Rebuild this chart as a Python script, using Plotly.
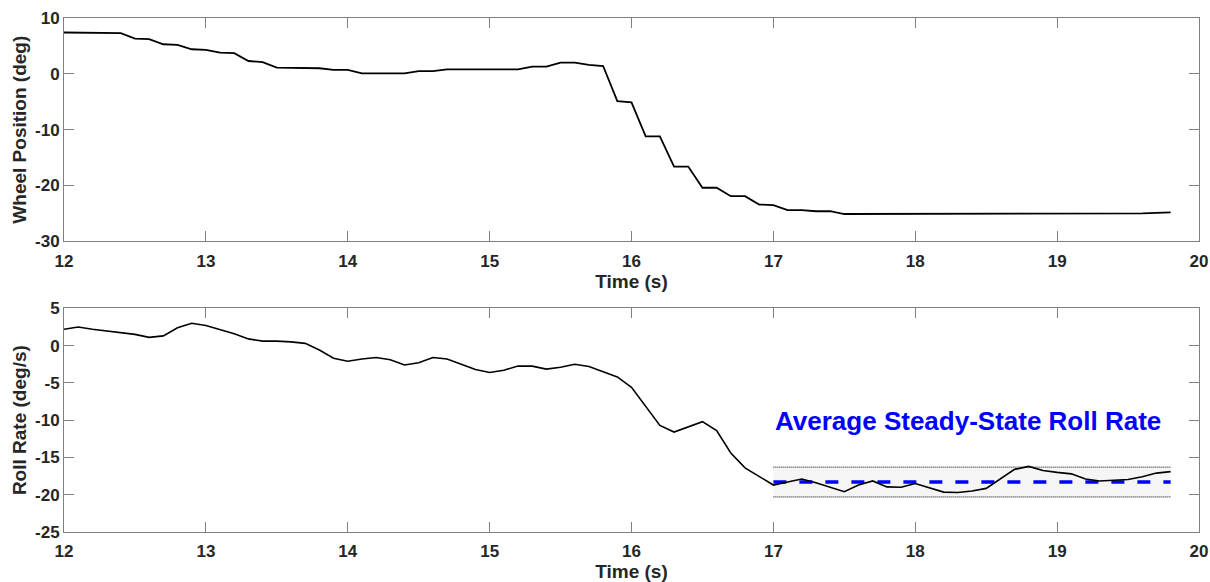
import plotly.graph_objects as go
from plotly.subplots import make_subplots

time_s = [12.0, 12.1, 12.2, 12.3, 12.4, 12.5, 12.6, 12.7, 12.8, 12.9,
          13.0, 13.1, 13.2, 13.3, 13.4, 13.5, 13.6, 13.7, 13.8, 13.9,
          14.0, 14.1, 14.2, 14.3, 14.4, 14.5, 14.6, 14.7, 14.8, 14.9,
          15.0, 15.1, 15.2, 15.3, 15.4, 15.5, 15.6, 15.7, 15.8, 15.9,
          16.0, 16.1, 16.2, 16.3, 16.4, 16.5, 16.6, 16.7, 16.8, 16.9,
          17.0, 17.1, 17.2, 17.3, 17.4, 17.5, 17.6, 17.7, 17.8, 17.9,
          18.0, 18.1, 18.2, 18.3, 18.4, 18.5, 18.6, 18.7, 18.8, 18.9,
          19.0, 19.1, 19.2, 19.3, 19.4, 19.5, 19.6, 19.7, 19.8]

wheel_position = [7.4, 7.4, 7.4, 7.4, 7.3, 6.3, 6.2, 5.3, 5.2, 4.4,
                  4.3, 3.8, 3.7, 2.3, 2.1, 1.1, 1.1, 1.1, 1.0, 0.7,
                  0.7, 0.1, 0.1, 0.1, 0.1, 0.5, 0.5, 0.8, 0.8, 0.8,
                  0.8, 0.8, 0.8, 1.3, 1.3, 2.0, 2.0, 1.6, 1.4, -4.9,
                  -5.1, -11.2, -11.2, -16.6, -16.6, -20.4, -20.4, -21.9, -21.9, -23.4,
                  -23.5, -24.4, -24.4, -24.6, -24.6, -25.1, -25.1, -25.0, -25.0, -25.0,
                  -25.0, -25.0, -25.0, -25.0, -25.0, -25.0, -25.0, -25.0, -25.0, -25.0,
                  -25.0, -25.0, -25.0, -25.0, -25.0, -25.0, -25.0, -24.9, -24.8]

roll_rate = [2.2, 2.5, 2.2, 2.0, 1.8, 1.5, 1.1, 1.3, 2.4, 3.0,
             2.7, 2.2, 1.6, 0.9, 0.6, 0.6, 0.5, 0.3, -0.6, -1.7,
             -2.1, -1.8, -1.6, -1.9, -2.6, -2.3, -1.6, -1.8, -2.5, -3.2,
             -3.6, -3.3, -2.75, -2.75, -3.15, -2.9, -2.5, -2.8, -3.5, -4.2,
             -5.6, -8.2, -10.7, -11.6, -10.9, -10.2, -11.4, -14.4, -16.4, -17.6,
             -18.7, -18.3, -17.9, -18.4, -19.05, -19.6, -18.7, -18.15, -18.95, -19.0,
             -18.5, -19.1, -19.65, -19.7, -19.5, -19.15, -17.9, -16.6, -16.2, -16.75,
             -17.0, -17.2, -17.9, -18.15, -18.05, -17.95, -17.6, -17.1, -16.9]

ss_time = [17.0, 19.8]
ss_mean = [-18.3, -18.3]
ss_upper = [-16.3, -16.3]
ss_lower = [-20.3, -20.3]
ss_label = "Average Steady-State Roll Rate"

x_ticks = [12, 13, 14, 15, 16, 17, 18, 19, 20]
wheel_ticks = [10, 0, -10, -20, -30]
roll_ticks = [5, 0, -5, -10, -15, -20, -25]

FONT = "Arial, 'Liberation Sans', sans-serif"
TXT = "#262626"
AX = "#808080"

fig = make_subplots(rows=2, cols=1, vertical_spacing=0.13)

fig.add_trace(go.Scatter(x=time_s, y=wheel_position, mode="lines",
                         line=dict(color="black", width=1.8), showlegend=False), row=1, col=1)

fig.add_trace(go.Scatter(x=ss_time, y=ss_lower, mode="lines",
                         line=dict(color="black", width=1, dash="1px,1px"), showlegend=False), row=2, col=1)
fig.add_trace(go.Scatter(x=ss_time, y=ss_upper, mode="lines", fill="tonexty", fillcolor="#f5f5f5",
                         line=dict(color="black", width=1, dash="1px,1px"), showlegend=False), row=2, col=1)
fig.add_trace(go.Scatter(x=ss_time, y=ss_mean, mode="lines",
                         line=dict(color="#0000ff", width=3.5, dash="13px,13px"), showlegend=False), row=2, col=1)
fig.add_trace(go.Scatter(x=time_s, y=roll_rate, mode="lines",
                         line=dict(color="black", width=1.6), showlegend=False), row=2, col=1)

fig.add_annotation(x=ss_time[0], y=-10.06, xref="x2", yref="y2", text=ss_label,
                   showarrow=False, xanchor="left", yanchor="middle",
                   font=dict(family=FONT, size=26, color="#0000ff", weight="bold"))

axis_common = dict(showgrid=False, zeroline=False, showline=True, linecolor=AX, linewidth=1,
                   mirror="ticks", ticks="inside", ticklen=10, tickcolor=AX, tickwidth=1,
                   automargin=False,
                   tickfont=dict(family=FONT, size=17, color=TXT, weight="bold"))

for r in (1, 2):
    fig.update_xaxes(range=[12, 20], tickvals=x_ticks, ticktext=[str(v) for v in x_ticks],
                     title=dict(text="Time (s)", font=dict(family=FONT, size=19, color=TXT, weight="bold"),
                                standoff=1),
                     ticklabelstandoff=4,
                     row=r, col=1, **axis_common)

fig.update_yaxes(range=[-30, 10], tickvals=wheel_ticks, ticktext=[str(v) for v in wheel_ticks],
                 title=dict(text="Wheel Position (deg)", font=dict(family=FONT, size=19, color=TXT, weight="bold"),
                            standoff=3),
                 row=1, col=1, **axis_common)
fig.update_yaxes(range=[-25, 5], tickvals=roll_ticks, ticktext=[str(v) for v in roll_ticks],
                 title=dict(text="Roll Rate (deg/s)", font=dict(family=FONT, size=19, color=TXT, weight="bold"),
                            standoff=3),
                 row=2, col=1, **axis_common)

fig.update_layout(width=1210, height=582, margin=dict(l=64, r=11, t=18, b=50),
                  paper_bgcolor="white", plot_bgcolor="white",
                  font=dict(family=FONT, color=TXT))
fig.update_xaxes(domain=[0, 1])
fig.update_yaxes(domain=[0.5654, 1.0], row=1, col=1)
fig.update_yaxes(domain=[0.0, 0.4352], row=2, col=1)

fig.write_html("out.html")
